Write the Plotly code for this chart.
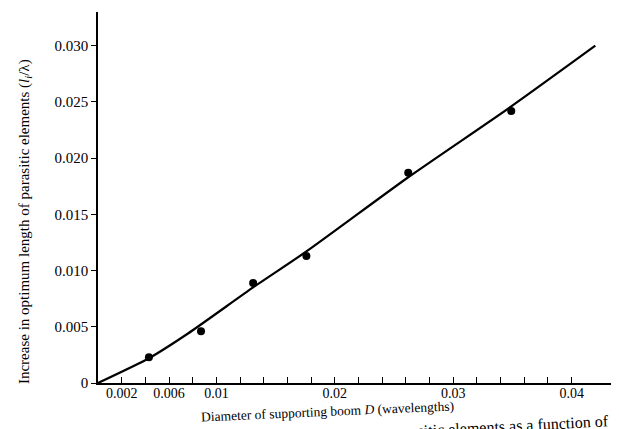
import plotly.graph_objects as go

# Measured points (boom diameter in wavelengths, increase in optimum length)
diameter = [0.0043, 0.0087, 0.0131, 0.0176, 0.0262, 0.0349]
increase = [0.0023, 0.0046, 0.0089, 0.0113, 0.0187, 0.0242]

# Fitted curve
curve_d = [0.0, 0.0043, 0.0076, 0.0131, 0.0176, 0.0262, 0.0349, 0.0420]
curve_inc = [0.0, 0.0022, 0.0044, 0.0085, 0.0117, 0.0183, 0.0246, 0.0300]

x_tick_vals = [0.002, 0.004, 0.006, 0.008, 0.010, 0.012, 0.014, 0.016, 0.018, 0.020,
               0.022, 0.024, 0.026, 0.028, 0.030, 0.032, 0.034, 0.036, 0.038, 0.040]
x_tick_text = ["0.002", "", "0.006", "", "0.01", "", "", "", "", "0.02",
               "", "", "", "", "0.03", "", "", "", "", "0.04"]
y_tick_vals = [0, 0.005, 0.010, 0.015, 0.020, 0.025, 0.030]
y_tick_text = ["0", "0.005", "0.010", "0.015", "0.020", "0.025", "0.030"]

FONT = "Liberation Serif"

fig = go.Figure()
fig.add_trace(go.Scatter(x=curve_d, y=curve_inc, mode="lines",
                         line=dict(color="black", width=2.2, shape="spline", smoothing=0.6),
                         hoverinfo="skip", showlegend=False))
fig.add_trace(go.Scatter(x=diameter, y=increase, mode="markers",
                         marker=dict(color="black", size=8),
                         showlegend=False))

# The page body has an 8px margin, so the figure is 8px smaller than the window.
fig.update_layout(
    width=611, height=421,
    margin=dict(l=90, r=0, t=4, b=46),
    paper_bgcolor="white", plot_bgcolor="white",
    font=dict(family=FONT, size=14, color="black"),
    xaxis=dict(range=[0, 0.044], showgrid=False, zeroline=False,
               showline=True, linecolor="black", linewidth=1.5,
               ticks="inside", ticklen=6, tickwidth=1.2, tickcolor="black",
               tickvals=x_tick_vals, ticktext=x_tick_text,
               ticklabelstandoff=-4,
               tickfont=dict(family=FONT, size=14)),
    yaxis=dict(range=[0, 0.033], showgrid=False, zeroline=False,
               showline=True, linecolor="black", linewidth=1.5,
               ticks="outside", ticklen=5, tickwidth=1.2, tickcolor="black",
               tickvals=y_tick_vals, ticktext=y_tick_text,
               tickfont=dict(family=FONT, size=15)),
    annotations=[
        dict(text="Diameter of supporting boom <i>D</i> (wavelengths)",
             xref="paper", yref="paper", x=0.44, y=-0.077, xanchor="center", yanchor="middle",
             showarrow=False, textangle=-2.5, font=dict(family=FONT, size=13.5)),
        dict(text="Increase in optimum length of parasitic elements (<i>l<sub>i</sub></i>/λ)",
             xref="paper", yref="paper", x=-0.14, y=0.434, xanchor="center", yanchor="middle",
             showarrow=False, textangle=-90, font=dict(family=FONT, size=15)),
        dict(text="parasitic elements as a function of",
             xref="paper", yref="paper", x=0.985, y=-0.074, xanchor="right", yanchor="top",
             showarrow=False, textangle=-3, font=dict(family=FONT, size=16)),
    ],
)

fig.write_html("out.html")
